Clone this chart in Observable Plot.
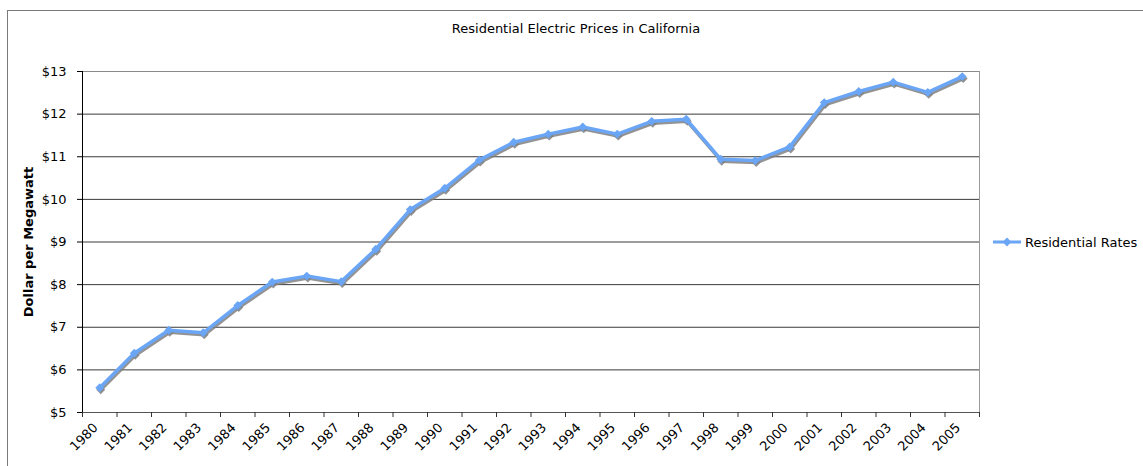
<!DOCTYPE html>
<html><head><meta charset="utf-8">
<script src="https://cdn.jsdelivr.net/npm/d3@7"></script>
<script src="https://cdn.jsdelivr.net/npm/@observablehq/plot@0.6"></script>
<style>
body{margin:0;background:#fff;font-family:"DejaVu Sans",Verdana,sans-serif;}
#wrap{position:relative;width:1143px;height:466px;overflow:hidden;background:#fff;}
#border{position:absolute;left:7px;top:10px;width:1200px;height:600px;border:1px solid #7a7a7a;box-sizing:border-box;}
#title{position:absolute;left:7px;width:1138px;top:21px;text-align:center;font-size:13px;line-height:16px;color:#000;}
#chart{position:absolute;left:0;top:0;}
#legend{position:absolute;left:990px;top:233px;display:flex;align-items:center;font-size:13px;color:#000;white-space:nowrap;}
</style>
</head><body>
<div id="wrap">
  <div id="border"></div>
  <div id="title"></div>
  <div id="chart"></div>
  <div id="legend"></div>
</div>
<script>
const chartTitle = "Residential Electric Prices in California";
const yTitle = "Dollar per Megawatt";
const seriesName = "Residential Rates";
const years = ["1980","1981","1982","1983","1984","1985","1986","1987","1988","1989","1990","1991","1992","1993","1994","1995","1996","1997","1998","1999","2000","2001","2002","2003","2004","2005"];
const rates = [5.58, 6.39, 6.93, 6.87, 7.51, 8.06, 8.20, 8.07, 8.83, 9.76, 10.26, 10.92, 11.34, 11.53, 11.70, 11.53, 11.83, 11.88, 10.94, 10.91, 11.23, 12.27, 12.53, 12.75, 12.51, 12.88];
const yTicks = [5, 6, 7, 8, 9, 10, 11, 12, 13];

const blue = "#6aa6f5";
const shadow = "#808080";

const data = years.map((y, i) => ({year: y, pos: i + 0.5, value: rates[i]}));
const bounds = d3.range(years.length + 1);

document.getElementById("title").textContent = chartTitle;

const plot = Plot.plot({
  width: 1143,
  height: 466,
  marginLeft: 82,
  marginRight: 164,
  marginTop: 71,
  marginBottom: 54,
  style: {fontFamily: "'DejaVu Sans', Verdana, sans-serif", fontSize: "13px", color: "#000", background: "transparent", overflow: "visible"},
  x: {type: "linear", domain: [0, years.length], axis: null, label: null},
  y: {domain: [yTicks[0], yTicks[yTicks.length - 1]], axis: null, label: null},
  marks: [
    Plot.ruleY(yTicks.slice(1), {stroke: "#3a3a3a", strokeWidth: 1}),
    Plot.ruleX([years.length], {stroke: "#9a9a9a", y1: yTicks[0], y2: yTicks[yTicks.length - 1]}),
    Plot.ruleY(yTicks.slice(-1), {stroke: "#8a8a8a", strokeWidth: 1}),
    Plot.axisY(yTicks, {anchor: "left", label: null, tickSize: 5, tickPadding: 11, tickFormat: d => "$" + d, stroke: "#000", fontSize: 13}),
    Plot.ruleX([0], {stroke: "#000", strokeWidth: 1}),
    Plot.ruleY(yTicks.slice(0, 1), {stroke: "#555", strokeWidth: 1}),
    Plot.axisX(bounds, {anchor: "bottom", label: null, tickSize: 5, tickFormat: () => "", stroke: "#333"}),
    Plot.text(data, {x: "pos", text: "year", frameAnchor: "bottom", rotate: -45, textAnchor: "end", lineAnchor: "middle", dx: -4, dy: 13, fontSize: 13}),
    Plot.text([yTitle], {frameAnchor: "left", textAnchor: "middle", rotate: -90, dx: -54, fontWeight: "bold", fontSize: 13}),
    Plot.line(data, {x: "pos", y: "value", stroke: shadow, strokeWidth: 3.5, dx: 1, dy: 2, strokeOpacity: 0.85}),
    Plot.dot(data, {x: "pos", y: "value", symbol: "diamond2", r: 4, fill: shadow, dx: 1, dy: 2, fillOpacity: 0.85}),
    Plot.line(data, {x: "pos", y: "value", stroke: blue, strokeWidth: 3.5}),
    Plot.dot(data, {x: "pos", y: "value", symbol: "diamond2", r: 4, fill: blue})
  ]
});
document.getElementById("chart").appendChild(plot);

// legend
const leg = document.getElementById("legend");
const sw = d3.create("svg").attr("width", 32).attr("height", 18);
sw.append("line").attr("x1", 3).attr("x2", 31).attr("y1", 9).attr("y2", 9).attr("stroke", blue).attr("stroke-width", 3);
sw.append("path").attr("d", d3.symbol(d3.symbolDiamond2, 50)()).attr("transform", "translate(17,9)").attr("fill", blue);
leg.appendChild(sw.node());
const span = document.createElement("span");
span.textContent = seriesName;
span.style.marginLeft = "3px";
leg.appendChild(span);
</script>
</body></html>
